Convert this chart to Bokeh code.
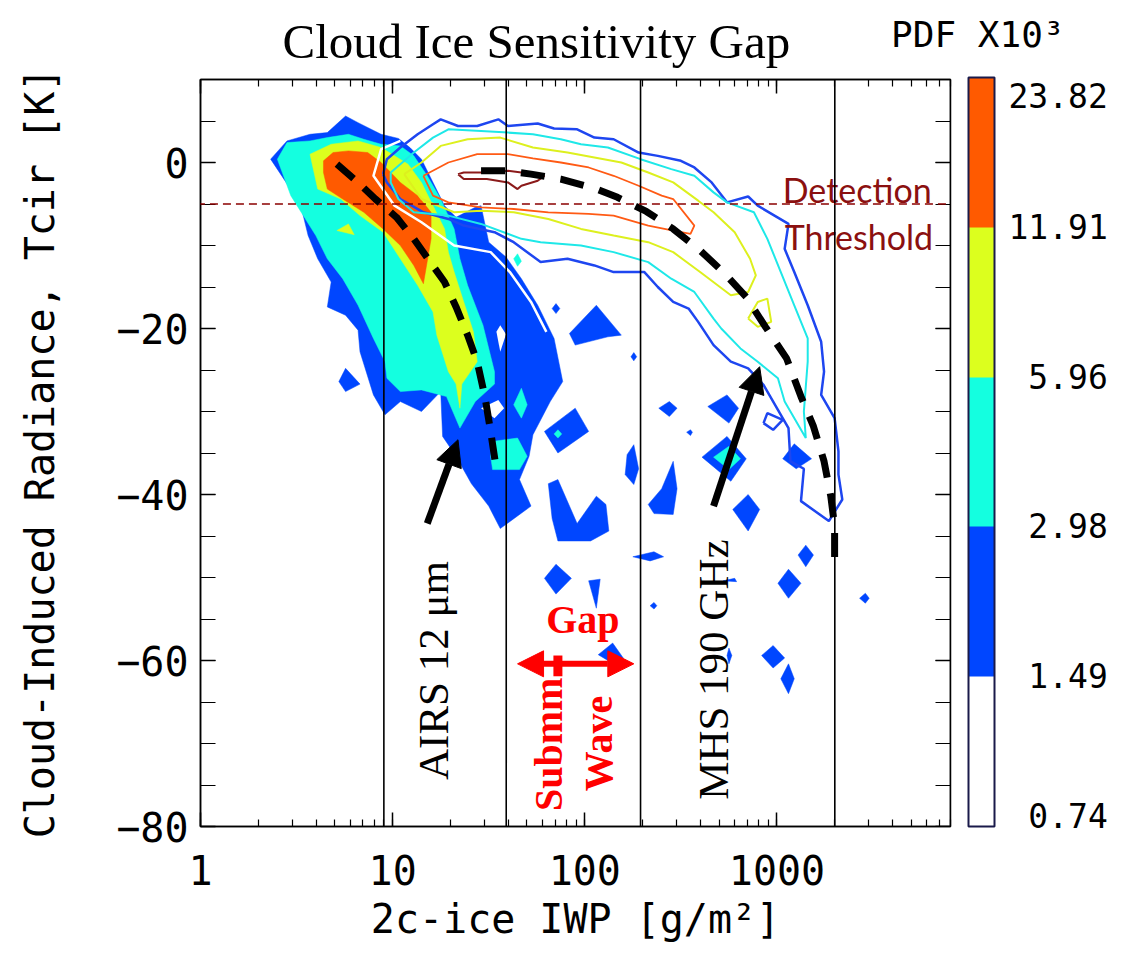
import numpy as np
from bokeh.plotting import figure
from bokeh.models import (Range1d, LogAxis, LinearAxis, LogTicker, SingleIntervalTicker,
                          BasicTickFormatter, ColorBar, LinearColorMapper, FixedTicker,
                          Arrow, NormalHead, PolyAnnotation, Title)
from bokeh.core.properties import value
from bokeh.embed import file_html
from bokeh.resources import INLINE

# ---------------- axes / levels ----------------
IWP_RANGE = (1.0, 8000.0)
TCIR_RANGE = (-80.0, 10.0)
TCIR_TICKS = [-80, -60, -40, -20, 0]
THRESHOLD_K = -5.0
THRESHOLD_IWP_SPAN = (0.82, 8800.0)

LEVEL_LABELS = ["0.74", "1.49", "2.98", "5.96", "11.91", "23.82"]
LEVEL_COLORS = ["#FFFFFF", "#0046FF", "#14FFE0", "#DCFF1E", "#FF5A00"]
CB_TICK_POS = [0.07, 1.0, 2.0, 3.0, 4.0, 4.87]
CB_TITLE = "PDF X10³"
MAIN_TITLE = "Cloud Ice Sensitivity Gap"

AIRS_BOX_IWP = (9.0, 39.0)
MHS_BOX_IWP = (195.0, 2000.0)
BOX_TCIR = (10.0, -82.0)

# ---------------- AIRS 12um PDF: filled regions (log10 IWP, Tcir) ----------------
BLUE_MAIN_LOGIWP = [0.365, 0.45, 0.57, 0.66, 0.755, 0.82, 0.94, 1.03, 1.09, 1.15, 1.21, 1.27, 1.33, 1.43,
                    1.46, 1.50, 1.59, 1.67, 1.755, 1.84, 1.885, 1.82, 1.73, 1.71, 1.66, 1.72, 1.56, 1.50,
                    1.41, 1.33, 1.26, 1.25, 1.15, 1.04, 0.96, 0.90, 0.83, 0.82, 0.755, 0.66, 0.68, 0.61,
                    0.56, 0.52]
BLUE_MAIN_TCIR = [0.4, 2.6, 3.4, 3.6, 5.6, 4.8, 3.4, 2.9, 1.8, 0.4, -2.4, -5.2, -6.6, -5.4,
                  -5.2, -9.6, -11.4, -14.0, -17.2, -21.2, -26.4, -28.8, -32.8, -35.4, -38.2, -41.4, -44.1, -41.4,
                  -38.7, -35.4, -33.0, -27.6, -30.0, -28.8, -30.4, -28.0, -22.8, -20.2, -18.4, -17.4, -14.4, -11.6,
                  -8.8, -5.0]

BLUE_SPOTS_LOGIWP = [
    [1.83, 1.85, 1.87, 1.85], [1.92, 2.06, 2.19, 2.12, 1.95], [2.24, 2.255, 2.27, 2.255],
    [1.79, 1.95, 2.02, 1.86], [1.81, 1.86, 1.96, 2.06, 2.11, 2.125, 2.03, 1.86, 1.83],
    [2.255, 2.28, 2.255, 2.21, 2.22], [1.79, 1.85, 1.93, 1.85], [2.02, 2.08, 2.06],
    [2.25, 2.36, 2.41, 2.34], [2.385, 2.44, 2.48, 2.44], [2.53, 2.55, 2.56, 2.55],
    [2.46, 2.48, 2.46, 2.36, 2.33, 2.40], [2.64, 2.74, 2.80, 2.75], [2.61, 2.74, 2.84, 2.76],
    [2.77, 2.85, 2.91, 2.85], [3.03, 3.09, 3.18, 3.10], [3.11, 3.15, 3.19, 3.15],
    [3.005, 3.06, 3.125, 3.06], [2.07, 2.145, 2.20, 2.135], [2.34, 2.36, 2.375, 2.36],
    [2.92, 2.98, 3.04, 2.98], [3.02, 3.06, 3.09, 3.06], [3.43, 3.46, 3.48, 3.46],
    [2.74, 2.75, 2.765, 2.75], [2.72, 2.78, 2.79], [0.72, 0.755, 0.83, 0.755]]
BLUE_SPOTS_TCIR = [
    [-17.6, -17.0, -17.6, -18.2], [-20.6, -17.2, -20.8, -21.0, -22.0], [-23.4, -22.9, -23.4, -23.9],
    [-32.4, -29.6, -32.4, -35.0], [-38.7, -38.2, -43.5, -40.2, -41.2, -44.4, -45.6, -45.6, -42.9],
    [-34.0, -36.9, -38.8, -37.6, -35.2], [-50.1, -48.4, -50.1, -52.0], [-50.4, -50.2, -53.7],
    [-47.5, -46.9, -47.5, -48.0], [-29.6, -28.8, -29.6, -30.6], [-32.5, -32.2, -32.5, -32.9],
    [-36.0, -39.3, -42.4, -42.3, -41.2, -39.3], [-29.4, -28.0, -29.6, -31.4], [-35.5, -33.0, -35.7, -38.4],
    [-41.8, -40.0, -41.8, -44.4], [-35.7, -33.9, -35.7, -36.9], [-47.3, -46.1, -47.3, -48.7],
    [-50.7, -49.0, -50.7, -52.5], [-59.3, -57.9, -59.7, -60.2], [-53.4, -53.0, -53.4, -53.8],
    [-59.4, -58.2, -59.7, -60.9], [-62.2, -60.4, -62.2, -64.0], [-52.5, -51.9, -52.5, -53.1],
    [-59.4, -58.5, -59.4, -60.4], [-50.4, -50.1, -50.5], [-26.4, -24.8, -26.7, -27.6]]

WHITE_HOLES_LOGIWP = [[1.46, 1.55, 1.58, 1.53], [1.54, 1.56, 1.59, 1.56]]
WHITE_HOLES_TCIR = [[-29.6, -28.6, -29.6, -30.8], [-20.4, -19.6, -20.7, -22.8]]

CYAN_MAIN_LOGIWP = [0.40, 0.45, 0.57, 0.66, 0.77, 0.85, 0.94, 1.04, 1.11, 1.18, 1.25, 1.32, 1.35, 1.39,
                    1.47, 1.53, 1.53, 1.43, 1.35, 1.28, 1.15, 1.04, 0.97, 0.96, 0.90, 0.82, 0.74, 0.66,
                    0.60, 0.47]
CYAN_MAIN_TCIR = [0.4, 2.4, 2.6, 3.0, 3.4, 2.8, 2.2, 2.0, 0.8, -1.6, -4.4, -8.0, -11.6, -14.8,
                  -19.6, -25.2, -26.7, -28.8, -32.0, -28.2, -27.4, -27.6, -26.0, -24.0, -21.2, -17.2, -14.0, -11.6,
                  -8.8, -4.0]
CYAN_SPOTS_LOGIWP = [[1.63, 1.65, 1.67, 1.65], [1.63, 1.67, 1.70, 1.67],
                     [1.52, 1.65, 1.70, 1.66, 1.52, 1.51], [1.84, 1.86, 1.88, 1.86],
                     [2.67, 2.75, 2.81, 2.75]]
CYAN_SPOTS_TCIR = [[-11.6, -11.0, -11.9, -12.5], [-29.2, -27.2, -29.2, -30.8],
                   [-33.6, -33.2, -35.4, -37.0, -37.0, -35.4], [-32.7, -32.2, -32.7, -33.2],
                   [-35.5, -34.2, -35.7, -37.0]]

YELLOW_MAIN_LOGIWP = [0.57, 0.68, 0.82, 0.94, 1.01, 1.08, 1.15, 1.21, 1.27, 1.29, 1.32, 1.37, 1.42, 1.44,
                      1.36, 1.35, 1.33, 1.29, 1.23, 1.21, 1.13, 1.04, 0.95, 0.83, 0.73, 0.61]
YELLOW_MAIN_TCIR = [1.0, 2.2, 2.6, 1.8, 0.8, -0.2, -2.4, -5.2, -8.0, -10.8, -13.2, -16.8, -20.4, -24.0,
                    -26.7, -29.6, -26.7, -25.2, -20.8, -18.0, -14.8, -11.6, -8.4, -6.4, -4.4, -3.2]
YELLOW_SPOT_LOGIWP = [0.71, 0.77, 0.80]
YELLOW_SPOT_TCIR = [-8.2, -7.4, -8.7]

ORANGE_MAIN_LOGIWP = [0.64, 0.69, 0.77, 0.87, 0.94, 1.04, 1.13, 1.20, 1.20, 1.16, 1.11, 1.04, 0.95, 0.85,
                      0.74, 0.66, 0.64]
ORANGE_MAIN_TCIR = [0.2, 1.2, 1.4, 1.2, 0.0, -2.4, -4.0, -6.0, -9.2, -14.6, -12.4, -10.0, -8.0, -6.0,
                    -4.4, -3.2, -1.2]

# ---------------- MHS 190 GHz PDF: contour lines ----------------
WHITE_LINE_LOGIWP = [1.04, 0.94, 0.90, 1.01, 1.15, 1.32, 1.51, 1.61, 1.72, 1.80]
WHITE_LINE_TCIR = [2.6, 1.6, -1.6, -5.2, -7.2, -10.0, -10.8, -13.2, -16.8, -20.4]

BLUE_LINE_LOGIWP = [0.95, 0.97, 1.04, 1.13, 1.21, 1.25, 1.34, 1.44, 1.55, 1.60, 1.755, 1.84, 1.96, 2.05,
                    2.15, 2.28, 2.38, 2.50, 2.57, 2.66, 2.74, 2.85, 2.90, 3.06, 3.04, 3.09, 3.16, 3.23,
                    3.245, 3.23, 3.30, 3.32, 3.32, 3.34, 3.27, 3.125, 3.14, 3.07, 3.06, 3.02, 2.93, 2.85,
                    2.76, 2.67, 2.59, 2.54, 2.46, 2.38, 2.31, 2.15, 2.05, 1.91, 1.77, 1.63, 1.53, 1.37,
                    1.29, 1.16, 1.04, 0.97, 0.95]
BLUE_LINE_TCIR = [-1.4, 0.4, 1.8, 3.4, 4.6, 5.2, 4.4, 4.4, 5.2, 4.4, 4.7, 4.1, 4.0, 3.0,
                  2.8, 1.2, 0.8, 0.2, -0.6, -2.4, -4.8, -4.1, -5.2, -7.4, -10.4, -13.2, -17.2, -21.6,
                  -25.2, -28.0, -30.8, -34.8, -37.6, -40.6, -43.2, -40.8, -36.9, -36.0, -32.0, -30.4, -26.8, -24.8,
                  -24.0, -22.0, -19.2, -17.6, -16.8, -15.0, -13.2, -13.2, -12.4, -11.6, -12.0, -9.6, -8.4, -7.6,
                  -6.8, -6.0, -4.4, -2.4, -1.4]
BLUE_LOOP_LOGIWP = [2.93, 2.95, 3.03, 2.98, 2.93]
BLUE_LOOP_TCIR = [-31.4, -30.2, -31.0, -32.2, -31.4]

CYAN_LINE_LOGIWP = [0.99, 1.11, 1.21, 1.29, 1.46, 1.60, 1.73, 1.875, 1.98, 2.12, 2.29, 2.45, 2.57, 2.67,
                    2.74, 2.88, 2.95, 3.02, 3.09, 3.16, 3.16, 3.14, 3.15, 3.04, 3.005, 2.90, 2.81, 2.71,
                    2.67, 2.57, 2.45, 2.33, 2.15, 1.98, 1.77, 1.67, 1.46, 1.29, 1.11, 1.03, 0.99, 0.99]
CYAN_LINE_TCIR = [-1.2, 1.2, 3.0, 4.0, 3.8, 3.6, 3.4, 2.8, 2.2, 1.8, 0.4, -0.8, -1.6, -3.6,
                  -4.8, -6.0, -9.2, -13.2, -17.2, -21.2, -24.0, -30.0, -33.2, -28.8, -26.0, -24.0, -22.4, -20.0,
                  -18.8, -15.6, -14.0, -12.0, -10.8, -10.0, -9.6, -9.2, -7.4, -6.4, -6.0, -4.4, -2.4, -1.2]

YELLOW_LINE_LOGIWP = [1.06, 1.15, 1.25, 1.39, 1.56, 1.73, 1.91, 2.05, 2.19, 2.33, 2.46, 2.59, 2.67, 2.78,
                      2.86, 2.89, 2.85, 2.76, 2.60, 2.46, 2.33, 2.15, 1.98, 1.81, 1.63, 1.46, 1.32, 1.15, 1.06]
YELLOW_LINE_TCIR = [-1.4, 0.0, 2.0, 2.8, 3.0, 1.8, 1.2, 0.6, 0.0, -1.2, -2.4, -4.6, -6.0, -8.4,
                    -11.6, -13.6, -15.6, -16.0, -13.2, -10.8, -9.6, -8.8, -8.0, -6.8, -6.0, -5.8, -6.0, -4.4, -1.4]
YELLOW_LOOP_LOGIWP = [2.85, 2.90, 2.95, 2.97, 2.90, 2.85]
YELLOW_LOOP_TCIR = [-18.8, -16.8, -16.4, -19.2, -19.8, -18.8]

ORANGE_LINE_LOGIWP = [1.16, 1.29, 1.44, 1.60, 1.73, 1.875, 2.02, 2.15, 2.28, 2.40, 2.46, 2.57, 2.55, 2.46,
                      2.33, 2.15, 2.02, 1.81, 1.63, 1.46, 1.29, 1.21, 1.16]
ORANGE_LINE_TCIR = [-1.6, 0.0, 1.0, 1.0, 0.5, 0.0, -0.6, -1.6, -2.8, -4.0, -4.4, -7.6, -8.6, -8.2,
                    -7.6, -6.4, -6.2, -6.0, -5.6, -5.4, -4.8, -4.0, -1.6]

DARKRED_LINE_LOGIWP = [1.34, 1.37, 1.49, 1.60, 1.67, 1.79, 1.755, 1.67, 1.65, 1.60, 1.49, 1.37, 1.34]
DARKRED_LINE_TCIR = [-1.4, -1.2, -1.2, -1.0, -1.2, -1.6, -2.2, -2.8, -3.2, -2.4, -2.0, -2.0, -1.4]

# ---------------- sensitivity curves (dashed) ----------------
AIRS_CURVE_LOGIWP = [0.71, 0.81, 0.91, 1.02, 1.11, 1.19, 1.27, 1.33, 1.39, 1.44, 1.48, 1.51, 1.54]
AIRS_CURVE_TCIR = [-0.2, -2.2, -4.4, -6.6, -9.2, -11.8, -14.4, -17.4, -20.8, -24.0, -28.2, -32.4, -37.0]
MHS_CURVE_LOGIWP = [1.46, 1.59, 1.72, 1.875, 2.05, 2.17, 2.32, 2.46, 2.60, 2.72, 2.84, 2.94, 3.05, 3.125,
                    3.19, 3.245, 3.28, 3.30, 3.30]
MHS_CURVE_TCIR = [-1.0, -1.0, -1.4, -2.0, -3.1, -4.2, -5.9, -8.0, -10.6, -13.2, -16.2, -19.8, -23.6, -28.2,
                  -31.8, -36.0, -40.2, -43.8, -47.7]

# ---------------- annotations (log10 IWP, Tcir) ----------------
AIRS_ARROW = (1.18, -43.5, 1.34, -33.4)
MHS_ARROW = (2.67, -41.4, 2.91, -24.6)
GAP_ARROW = (1.65, -60.4, 2.255, -60.4)
GAP_BAR = (1.86, -59.4, 1.86, -61.9)


def iwp(seq):
    return [10.0 ** v for v in seq]


p = figure(width=1126, height=958, x_axis_type="log", title=None,
           x_range=Range1d(*IWP_RANGE), y_range=Range1d(*TCIR_RANGE),
           output_backend="svg", toolbar_location=None,
           min_border_left=200, min_border_right=176, min_border_top=77, min_border_bottom=132)
p.grid.visible = False
p.background_fill_color = "white"
p.border_fill_color = "white"
p.outline_line_color = "black"
p.outline_line_width = 1.5

AX_FONT = "DejaVu Sans Mono"

xa = p.xaxis[0]
xa.ticker = LogTicker(num_minor_ticks=10)
xa.formatter = BasicTickFormatter()
xa.axis_label = "2c-ice IWP [g/m²]"
ya = p.yaxis[0]
ya.ticker = SingleIntervalTicker(interval=20, num_minor_ticks=4)
ya.major_label_overrides = {v: ("\u2212" + str(abs(v)) if v < 0 else str(v)) for v in TCIR_TICKS}
ya.axis_label = "Cloud-Induced Radiance, Tcir [K]"
for ax in (xa, ya):
    ax.axis_line_color = "black"
    ax.axis_line_width = 1.5
    ax.major_tick_line_color = "black"
    ax.minor_tick_line_color = "black"
    ax.major_tick_line_width = 1.5
    ax.minor_tick_line_width = 1.2
    ax.major_tick_out = 0
    ax.minor_tick_out = 0
    ax.major_label_text_font = AX_FONT
    ax.major_label_text_font_size = "40px"
    ax.major_label_text_color = "black"
    ax.axis_label_text_font = AX_FONT
    ax.axis_label_text_font_size = "40px"
    ax.axis_label_text_font_style = "normal"
    ax.axis_label_text_color = "black"
xa.major_tick_in = 14
xa.minor_tick_in = 7
xa.major_label_standoff = 28
xa.axis_label_standoff = 8
ya.major_tick_in = 15
ya.minor_tick_in = 15
ya.major_label_standoff = 12
ya.axis_label_standoff = 50

# mirrored tick marks on the top and right edges of the frame
top_ax = LogAxis(ticker=LogTicker(num_minor_ticks=10), major_label_text_font_size="2px",
                 major_label_text_alpha=0,
                 major_tick_in=14, minor_tick_in=7, major_tick_out=0, minor_tick_out=0,
                 major_label_standoff=0, axis_line_width=1.5, major_tick_line_width=1.5,
                 minor_tick_line_width=1.2)
p.add_layout(top_ax, "above")
mirror_y = LinearAxis(ticker=SingleIntervalTicker(interval=20, num_minor_ticks=4),
                      fixed_location=IWP_RANGE[1],
                      major_label_text_font_size="2px", major_label_text_alpha=0,
                      major_tick_in=0, minor_tick_in=0, major_tick_out=15, minor_tick_out=15,
                      major_label_standoff=0, axis_line_width=1.5, major_tick_line_width=1.5,
                      minor_tick_line_width=1.2)
p.add_layout(mirror_y, "left")

# ---- titles: main title and colour-bar heading share one line above the frame ----
SERIF = "Liberation Serif"
p.add_layout(Title(text=MAIN_TITLE, align="left", offset=82, vertical_align="bottom",
                   text_font=SERIF, text_font_size="49px", text_font_style="normal",
                   text_color="black", standoff=22), "above")
p.add_layout(Title(text=CB_TITLE, align="right", offset=-114, vertical_align="bottom",
                   text_font=AX_FONT, text_font_size="36px", text_font_style="normal",
                   text_color="black", standoff=-108), "above")

# ---- filled AIRS PDF ----
p.patches(xs=[iwp(BLUE_MAIN_LOGIWP)] + [iwp(s) for s in BLUE_SPOTS_LOGIWP],
          ys=[BLUE_MAIN_TCIR] + BLUE_SPOTS_TCIR,
          fill_color=LEVEL_COLORS[1], line_color=LEVEL_COLORS[1], line_width=0.5)
p.patches(xs=[iwp(s) for s in WHITE_HOLES_LOGIWP], ys=WHITE_HOLES_TCIR,
          fill_color="white", line_color=None)
p.patches(xs=[iwp(CYAN_MAIN_LOGIWP)] + [iwp(s) for s in CYAN_SPOTS_LOGIWP],
          ys=[CYAN_MAIN_TCIR] + CYAN_SPOTS_TCIR,
          fill_color=LEVEL_COLORS[2], line_color=LEVEL_COLORS[2], line_width=0.5)
p.patches(xs=[iwp(YELLOW_MAIN_LOGIWP), iwp(YELLOW_SPOT_LOGIWP)],
          ys=[YELLOW_MAIN_TCIR, YELLOW_SPOT_TCIR],
          fill_color=LEVEL_COLORS[3], line_color=LEVEL_COLORS[3], line_width=0.5)
p.patches(xs=[iwp(ORANGE_MAIN_LOGIWP)], ys=[ORANGE_MAIN_TCIR],
          fill_color=LEVEL_COLORS[4], line_color=LEVEL_COLORS[4], line_width=0.5)

# ---- MHS PDF contour lines ----
p.line(iwp(WHITE_LINE_LOGIWP), WHITE_LINE_TCIR, line_color="white", line_width=2.5)
p.multi_line(xs=[iwp(BLUE_LINE_LOGIWP), iwp(BLUE_LOOP_LOGIWP)], ys=[BLUE_LINE_TCIR, BLUE_LOOP_TCIR],
             line_color="#1E46F0", line_width=2.5)
p.line(iwp(CYAN_LINE_LOGIWP), CYAN_LINE_TCIR, line_color="#1EE8E8", line_width=2)
p.multi_line(xs=[iwp(YELLOW_LINE_LOGIWP), iwp(YELLOW_LOOP_LOGIWP)], ys=[YELLOW_LINE_TCIR, YELLOW_LOOP_TCIR],
             line_color="#DDF01E", line_width=2)
p.line(iwp(ORANGE_LINE_LOGIWP), ORANGE_LINE_TCIR, line_color="#FF5A14", line_width=1.8)
p.line(iwp(DARKRED_LINE_LOGIWP), DARKRED_LINE_TCIR, line_color="#8B1A1A", line_width=2)

# ---- instrument windows ----
for lo, hi in (AIRS_BOX_IWP, MHS_BOX_IWP):
    p.add_layout(PolyAnnotation(xs=[lo, hi, hi, lo], ys=[BOX_TCIR[0], BOX_TCIR[0], BOX_TCIR[1], BOX_TCIR[1]],
                                fill_color=None, fill_alpha=0, line_color="black", line_alpha=1.0,
                                line_width=1.6))

# ---- detection threshold ----
p.add_layout(Arrow(end=None, x_start=THRESHOLD_IWP_SPAN[0], y_start=THRESHOLD_K,
                   x_end=THRESHOLD_IWP_SPAN[1], y_end=THRESHOLD_K,
                   line_color="#8B0000", line_width=1.6, line_dash="8 5"))

# ---- dashed sensitivity curves ----
p.line(iwp(AIRS_CURVE_LOGIWP), AIRS_CURVE_TCIR, line_color="black", line_width=7, line_dash="22 14")
p.line(iwp(MHS_CURVE_LOGIWP), MHS_CURVE_TCIR, line_color="black", line_width=7, line_dash="24 16")

# ---- arrows ----
for a in (AIRS_ARROW, MHS_ARROW):
    p.add_layout(Arrow(end=NormalHead(size=26, fill_color="black", line_color="black"),
                       x_start=10 ** a[0], y_start=a[1], x_end=10 ** a[2], y_end=a[3],
                       line_color="black", line_width=7))
p.add_layout(Arrow(start=NormalHead(size=26, fill_color="red", line_color="red"),
                   end=NormalHead(size=26, fill_color="red", line_color="red"),
                   x_start=10 ** GAP_ARROW[0], y_start=GAP_ARROW[1],
                   x_end=10 ** GAP_ARROW[2], y_end=GAP_ARROW[3], line_color="red", line_width=6))
p.segment(x0=[10 ** GAP_BAR[0]], y0=[GAP_BAR[1]], x1=[10 ** GAP_BAR[2]], y1=[GAP_BAR[3]],
          line_color="red", line_width=9)

# ---- texts ----
p.text(x=[10 ** 1.21, 10 ** 2.67], y=[-61.2, -61.1], text=["AIRS 12 μm", "MHS 190 GHz"],
       angle=np.pi / 2, text_align="center", text_baseline="middle",
       text_font=value(SERIF), text_font_size="43px", text_color="black")
p.text(x=[10 ** 1.99], y=[-55.0], text=["Gap"], text_align="center", text_baseline="middle",
       text_font=value(SERIF), text_font_style="bold", text_font_size="40px", text_color="#FF0000")
p.text(x=[10 ** 1.81, 10 ** 2.07], y=[-70.1, -70.0], text=["Submm", "Wave"], angle=np.pi / 2,
       text_align="center", text_baseline="middle",
       text_font=value(SERIF), text_font_style="bold", text_font_size="40px", text_color="#FF0000")
p.text(x=[10 ** 3.03, 10 ** 3.04], y=[-3.2, -8.9], text=["Detection", "Threshold"],
       text_align="left", text_baseline="alphabetic",
       text_font=value("Lato"), text_font_size="34px", text_color="#8B1010")

# ---- colour bar ----
cb_labels = [("\u2007" if len(s) == 4 else "") + s for s in LEVEL_LABELS]
cb = ColorBar(color_mapper=LinearColorMapper(palette=LEVEL_COLORS, low=0, high=len(LEVEL_COLORS)),
              ticker=FixedTicker(ticks=CB_TICK_POS),
              major_label_overrides={t: s for t, s in zip(CB_TICK_POS, cb_labels)},
              location=(18, 0), orientation="vertical", width=26, height=749,
              margin=0, padding=0, label_standoff=14,
              major_tick_line_color=None, minor_tick_line_color=None,
              bar_line_color="#1A1A4A", bar_line_width=2, border_line_color=None,
              background_fill_color=None,
              major_label_text_font=AX_FONT, major_label_text_font_size="33px",
              major_label_text_color="black")
p.add_layout(cb, "right")

open("out.html", "w").write(file_html(p, INLINE))
